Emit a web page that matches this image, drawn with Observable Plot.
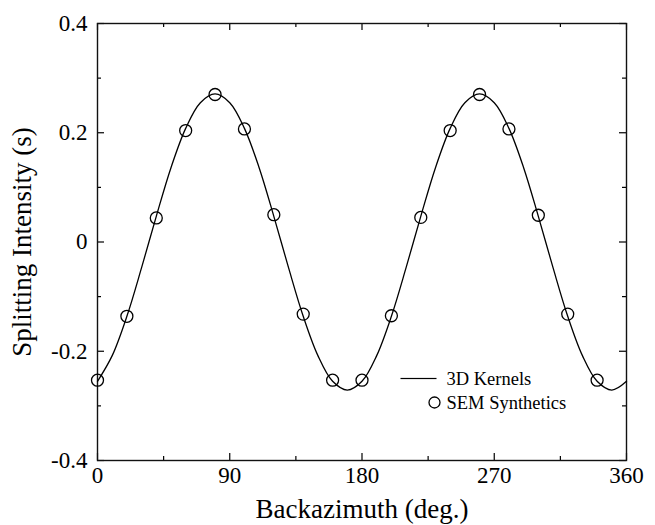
<!DOCTYPE html>
<html>
<head>
<meta charset="utf-8">
<script src="https://cdn.jsdelivr.net/npm/d3@7"></script>
<script src="https://cdn.jsdelivr.net/npm/@observablehq/plot@0.6"></script>
<style>
  html, body { margin: 0; padding: 0; background: #fff; }
  svg { display: block; }
  svg, svg text, svg tspan { font-family: "Liberation Serif", "Times New Roman", Times, serif !important; }
</style>
</head>
<body>
<script>
// Tick positions
const xMajor = [0, 90, 180, 270, 360];
const xMinor = [45, 135, 225, 315];
const yMajor = [-0.4, -0.2, 0, 0.2, 0.4];
const yMinor = [-0.3, -0.1, 0.1, 0.3];

// 3D Kernels curve (every 10 degrees)
const kernelAz = [0, 10, 20, 30, 40, 50, 60, 70, 80, 90, 100, 110, 120, 130, 140, 150, 160, 170, 180,
                  190, 200, 210, 220, 230, 240, 250, 260, 270, 280, 290, 300, 310, 320, 330, 340, 350, 360];
const kernelSI = [-0.255, -0.208, -0.136, -0.047, 0.047, 0.136, 0.208, 0.255, 0.271, 0.255, 0.208, 0.136, 0.047, -0.047, -0.136, -0.208, -0.255, -0.271, -0.255,
                  -0.208, -0.136, -0.047, 0.047, 0.136, 0.208, 0.255, 0.271, 0.255, 0.208, 0.136, 0.047, -0.047, -0.136, -0.208, -0.255, -0.271, -0.255];

// SEM synthetics points
const semAz = [0, 20, 40, 60, 80, 100, 120, 140, 160, 180, 200, 220, 240, 260, 280, 300, 320, 340];
const semSI = [-0.253, -0.136, 0.044, 0.204, 0.270, 0.207, 0.050, -0.132, -0.253,
               -0.253, -0.135, 0.045, 0.204, 0.270, 0.207, 0.049, -0.132, -0.253];

const seriesNames = ["3D Kernels", "SEM Synthetics"];
const xTitle = "Backazimuth (deg.)";
const yTitle = "Splitting Intensity (s)";

const kernel = kernelAz.map((a, i) => ({az: a, si: kernelSI[i]}));
const sem = semAz.map((a, i) => ({az: a, si: semSI[i]}));

const W = 655, H = 525;
const mL = 97, mR = 29, mT = 23, mB = 65;
const pw = W - mL - mR, ph = H - mT - mB;

const chart = Plot.plot({
  width: W,
  height: H,
  marginLeft: mL, marginRight: mR, marginTop: mT, marginBottom: mB,
  style: {fontFamily: "Liberation Serif, serif", fontSize: "23px", color: "#000", background: "#fff"},
  x: {domain: [0, 360], ticks: xMajor, tickSize: 0, tickPadding: 6, label: null, tickFormat: d => String(d)},
  y: {domain: [-0.4, 0.4], ticks: yMajor, tickSize: 0, tickPadding: 10, label: null,
      tickFormat: d => Math.abs(d) < 1e-9 ? "0" : d.toFixed(1)},
  marks: [
    // inward ticks: bottom / top
    Plot.tickX(xMajor, {x: d => d, insetTop: ph - 7, stroke: "#000", strokeWidth: 1.2}),
    Plot.tickX(xMinor, {x: d => d, insetTop: ph - 4, stroke: "#000", strokeWidth: 1.2}),
    Plot.tickX(xMajor, {x: d => d, insetBottom: ph - 7, stroke: "#000", strokeWidth: 1.2}),
    Plot.tickX(xMinor, {x: d => d, insetBottom: ph - 4, stroke: "#000", strokeWidth: 1.2}),
    // inward ticks: left / right
    Plot.tickY(yMajor, {y: d => d, insetRight: pw - 7, stroke: "#000", strokeWidth: 1.2}),
    Plot.tickY(yMinor, {y: d => d, insetRight: pw - 4, stroke: "#000", strokeWidth: 1.2}),
    Plot.tickY(yMajor, {y: d => d, insetLeft: pw - 7, stroke: "#000", strokeWidth: 1.2}),
    Plot.tickY(yMinor, {y: d => d, insetLeft: pw - 4, stroke: "#000", strokeWidth: 1.2}),
    Plot.frame({stroke: "#111", strokeWidth: 1.4}),
    // curve
    Plot.line(kernel, {x: "az", y: "si", curve: "catmull-rom", stroke: "#000", strokeWidth: 1.3}),
    // points
    Plot.dot(sem, {x: "az", y: "si", r: 6, stroke: "#000", strokeWidth: 1.3, fill: "none"}),
    // legend
    Plot.frame({fill: "#000", stroke: null, insetLeft: 303, insetRight: pw - 339, insetTop: 354.4, insetBottom: ph - 355.6}),
    Plot.text([seriesNames[0]], {frameAnchor: "top-left", dx: 349, dy: 361, textAnchor: "start", lineAnchor: "bottom", fontSize: 18.5, fill: "#000"}),
    Plot.dot([seriesNames[1]], {frameAnchor: "top-left", dx: 337, dy: 379, r: 5.5, stroke: "#000", strokeWidth: 1.3, fill: "none"}),
    Plot.text([seriesNames[1]], {frameAnchor: "top-left", dx: 349, dy: 385, textAnchor: "start", lineAnchor: "bottom", fontSize: 18.5, fill: "#000"}),
    // axis titles
    Plot.text([xTitle], {frameAnchor: "bottom", dy: 57, textAnchor: "middle", lineAnchor: "bottom", fontSize: 27, fill: "#000"}),
    Plot.text([yTitle], {frameAnchor: "left", dx: -67, rotate: -90, textAnchor: "middle", lineAnchor: "bottom", fontSize: 27, fill: "#000"})
  ]
});
document.body.appendChild(chart);
</script>
</body>
</html>
